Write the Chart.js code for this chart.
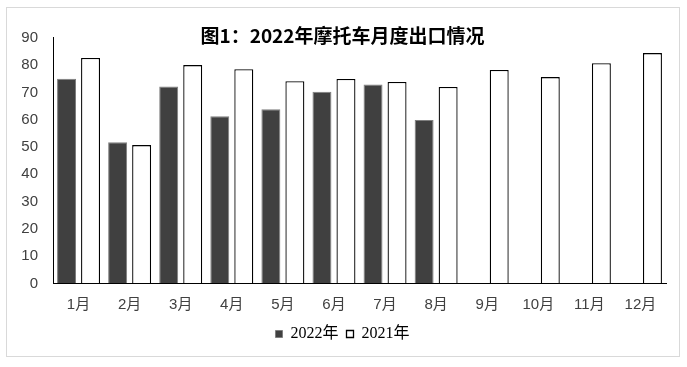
<!DOCTYPE html>
<html>
<head>
<meta charset="utf-8">
<script src="https://cdn.jsdelivr.net/npm/chart.js@4.4.1/dist/chart.umd.min.js"></script>
<style>
  html, body { margin: 0; padding: 0; background: #ffffff; }
  #frame { position: absolute; left: 6px; top: 7px; width: 674px; height: 350px; box-sizing: border-box; border: 1px solid #d9d9d9; }
  #c { position: absolute; left: 0; top: 0; }
</style>
</head>
<body>
<div id="frame"></div>
<canvas id="c" width="687" height="367"></canvas>
<script>
const categories = ['1月', '2月', '3月', '4月', '5月', '6月', '7月', '8月', '9月', '10月', '11月', '12月'];
const series2022 = [75.0, 51.7, 72.2, 61.3, 63.8, 70.2, 72.9, 59.9, null, null, null, null];
const series2021 = [82.6, 50.7, 80.0, 78.5, 74.1, 74.9, 73.8, 72.0, 78.2, 75.6, 80.7, 84.4];
const seriesNames = ['2022年', '2021年'];
const yTicks = [0, 10, 20, 30, 40, 50, 60, 70, 80, 90];
const titleText = '图1：2022年摩托车月度出口情况';

const sansFont = "'Liberation Sans', 'Noto Sans CJK SC', sans-serif";
const serifFont = "'Liberation Serif', 'Noto Sans CJK SC', serif";

new Chart(document.getElementById('c'), {
  type: 'bar',
  data: {
    labels: categories,
    datasets: [
      {
        label: seriesNames[0],
        data: series2022,
        backgroundColor: '#404040',
        borderColor: '#7f7f7f',
        borderWidth: 1,
        categoryPercentage: 0.94,
        barPercentage: 0.79
      },
      {
        label: seriesNames[1],
        data: series2021,
        backgroundColor: '#ffffff',
        borderColor: '#000000',
        borderWidth: 1.3,
        categoryPercentage: 0.94,
        barPercentage: 0.79
      }
    ]
  },
  options: {
    responsive: false,
    animation: false,
    devicePixelRatio: 1,
    layout: { padding: { left: 19, right: 21, top: 0, bottom: 15 } },
    plugins: {
      title: {
        display: true,
        text: titleText,
        color: '#000000',
        font: { family: "'Noto Sans CJK SC', sans-serif", size: 19, weight: 'bold' },
        padding: { top: 24, bottom: -9 }
      },
      legend: {
        position: 'bottom',
        labels: {
          color: '#000000',
          font: { family: serifFont, size: 16 },
          boxWidth: 7,
          boxHeight: 7,
          padding: 8
        }
      },
      tooltip: { enabled: false }
    },
    scales: {
      x: {
        grid: { display: true, color: 'rgba(0,0,0,0)', drawTicks: false },
        border: { display: true, color: '#000000', width: 1 },
        ticks: { color: '#404040', font: { family: sansFont, size: 15 }, padding: 12, maxRotation: 0 },
        afterFit: (s) => { s.height = 34.5; }
      },
      y: {
        min: 0,
        max: 90,
        afterBuildTicks: (s) => { s.ticks = yTicks.map(v => ({ value: v })); },
        grid: { display: true, color: 'rgba(0,0,0,0)', drawTicks: false },
        border: { display: true, color: '#000000', width: 1 },
        ticks: { color: '#404040', font: { family: sansFont, size: 15 }, padding: 15 },
        afterFit: (s) => { s.width = 34; }
      }
    }
  }
});
</script>
</body>
</html>
